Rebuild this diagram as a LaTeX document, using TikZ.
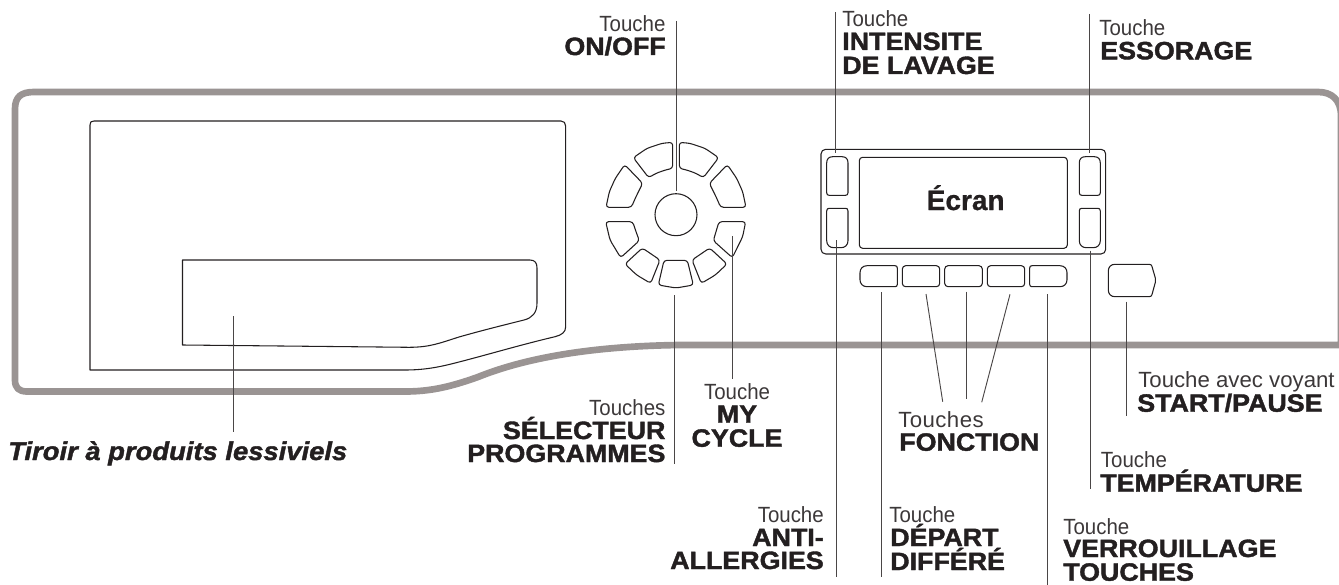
\documentclass[tikz,border=0pt]{standalone}
\usepackage{fontspec}
\setmainfont{Liberation Sans}
\newfontfamily\litefam[FakeStretch=0.93]{Liberation Sans}
\newfontfamily\litewide[FakeStretch=1.01]{Liberation Sans}
\newfontfamily\litespaced[FakeStretch=1.01,LetterSpace=2]{Liberation Sans}
\newfontfamily\heavyfam[FakeStretch=1.07,FakeBold=1.6]{Liberation Sans Bold}
\newfontfamily\heavyit[FakeStretch=1.07,FakeBold=1.6]{Liberation Sans Bold Italic}
\newfontfamily\ecranfam[FakeBold=0.8]{Liberation Sans Bold}
\definecolor{shell}{HTML}{9A9493}
\definecolor{ink}{HTML}{231F20}
\definecolor{leader}{HTML}{4A4646}
\definecolor{litetext}{HTML}{3C3839}
\tikzset{
  shellline/.style={draw=shell,line width=5pt,line join=round},
  part/.style={draw=ink,line width=0.8pt,line join=round},
  thinpart/.style={draw=ink,line width=0.8pt,line join=round},
  leaderline/.style={draw=leader,line width=0.7pt},
  lite/.style={inner sep=0pt,text=litetext,font=\litefam\fontsize{16.5}{18}\selectfont},
  litew/.style={inner sep=0pt,text=litetext,font=\litewide\fontsize{16.5}{18}\selectfont},
  lites/.style={inner sep=0pt,text=litetext,font=\litespaced\fontsize{16.5}{18}\selectfont},
  heavy/.style={inner sep=0pt,text=ink,font=\heavyfam\fontsize{18.8}{20}\selectfont},
  heavyi/.style={inner sep=0pt,text=ink,font=\heavyit\fontsize{19.2}{20}\selectfont},
  dialkey/.style={part,rounded corners=2.2pt},
}
\begin{document}
\begin{tikzpicture}[x=0.75pt,y=-0.75pt]
\useasboundingbox (0,0) rectangle (1339,585);
% outer shell
\begin{scope}
\clip (0,0) rectangle (1339,585);
\path[shellline] (15,109) .. controls (15,97) and (21,92) .. (34,92) -- (1318,92)
  .. controls (1332,92) and (1341,100) .. (1341,116) -- (1341,345) -- (680,345)
  .. controls (600,346) and (530,356) .. (478,377)
  .. controls (450,387) and (430,391.5) .. (405,391.5) -- (27,391.5)
  .. controls (19,391.5) and (15,388) .. (15,380) -- cycle;
\end{scope}
% drawer
\path[thinpart] (94,121) -- (561,121) .. controls (564,121) and (565.6,123) .. (565.6,126)
  -- (565.6,327) .. controls (565.6,332) and (562,335) .. (555,336.7)
  .. controls (520,345) and (490,354) .. (459,362)
  .. controls (440,367) and (425,370) .. (405,370) -- (90,370) -- (90,125)
  .. controls (90,122) and (91,121) .. (94,121) -- cycle;
\path[thinpart] (182.5,260) -- (530,260) .. controls (535,260) and (537,263) .. (537,268)
  -- (537,303) .. controls (537,313) and (532,318) .. (524,320)
  .. controls (500,326) and (480,331) .. (459,337)
  .. controls (440,343) and (430,347.3) .. (409,347.3) -- (182.5,345) -- cycle;
% dial
\node[part,circle,minimum size=31.5pt,inner sep=0pt] (dialcentre) at (676,214.7) {};
\begin{scope}[shift={(590,90)},xscale=1/3,yscale=1/3]
\path[dialkey] (268,157) -- (300,160) -- (345,175) -- (386,203) -- (340,263) -- (318,250) -- (290,240) -- (268,235) -- cycle;
\path[dialkey] (248,157) -- (216,160) -- (171,175) -- (130,203) -- (176,263) -- (198,250) -- (226,240) -- (248,235) -- cycle;
\path[dialkey] (412,224) -- (440,265) -- (458,305) -- (468,352) -- (392,352) -- (378,320) -- (358,280) -- cycle;
\path[dialkey] (104,224) -- (76,265) -- (58,305) -- (48,352) -- (124,352) -- (138,320) -- (158,280) -- cycle;
\path[dialkey] (387,395) -- (467,395) -- (458,440) -- (427,503) -- (370,452) -- (378,425) -- cycle;
\path[dialkey] (47,395) -- (128,395) -- (138,425) -- (148,452) -- (92,503) -- (60,450) -- cycle;
\path[dialkey] (157,474) -- (210,510) -- (196,545) -- (182,580) -- (140,555) -- (105,522) -- cycle;
\path[dialkey] (359,474) -- (411,522) -- (376,555) -- (334,580) -- (320,545) -- (306,510) -- cycle;
\path[dialkey] (222,511) -- (292,511) -- (310,585) -- (258,594) -- (205,585) -- cycle;
\end{scope}
% display panel
\path[part,rounded corners=3.5pt] (821,149.3) rectangle (1105.7,254);
\path[part,rounded corners=2.5pt] (859.3,157.3) rectangle (1067.3,248.3);
\node[inner sep=0pt,anchor=base,text=ink,font=\ecranfam\fontsize{21}{23}\selectfont] (ecran) at (965.7,210) {Écran};
% side keys
\path[part] (832.7,156.7) -- (842,156.7) .. controls (846,156.7) and (848,159) .. (848,163) -- (848,192.7) .. controls (848,194.7) and (847,195.3) .. (845.5,195.3) -- (829.2,195.3) .. controls (827.7,195.3) and (826.7,194.7) .. (826.7,192.7) -- (826.7,163) .. controls (826.7,159) and (828.7,156.7) .. (832.7,156.7) -- cycle;
\path[part] (1085.3,156.7) -- (1094.3,156.7) .. controls (1098.3,156.7) and (1100.3,159) .. (1100.3,163) -- (1100.3,192.7) .. controls (1100.3,194.7) and (1099.3,195.3) .. (1097.8,195.3) -- (1081.8,195.3) .. controls (1080.3,195.3) and (1079.3,194.7) .. (1079.3,192.7) -- (1079.3,163) .. controls (1079.3,159) and (1081.3,156.7) .. (1085.3,156.7) -- cycle;
\path[part] (829.2,208.3) -- (845.5,208.3) .. controls (847,208.3) and (848,209) .. (848,211) -- (848,240.7) .. controls (848,245) and (845,247.7) .. (841,247.7) -- (833.7,247.7) .. controls (829.7,247.7) and (826.7,245) .. (826.7,240.7) -- (826.7,211) .. controls (826.7,209) and (827.7,208.3) .. (829.2,208.3) -- cycle;
\path[part] (1081.8,208.3) -- (1097.8,208.3) .. controls (1099.3,208.3) and (1100.3,209) .. (1100.3,211) -- (1100.3,240.7) .. controls (1100.3,245) and (1097.3,247.7) .. (1093.3,247.7) -- (1086.3,247.7) .. controls (1082.3,247.7) and (1079.3,245) .. (1079.3,240.7) -- (1079.3,211) .. controls (1079.3,209) and (1080.3,208.3) .. (1081.8,208.3) -- cycle;
% function keys
\path[part] (867,265.7) -- (895,265.7) .. controls (896.5,265.7) and (897.3,266.5) .. (897.3,268) -- (897.3,284.4) .. controls (897.3,285.9) and (896.5,286.7) .. (895,286.7) -- (867,286.7) .. controls (862.5,286.7) and (860,283.5) .. (860,279.7) -- (860,272.7) .. controls (860,268.9) and (862.5,265.7) .. (867,265.7) -- cycle;
\path[part,rounded corners=2.5pt] (902.3,265.7) rectangle (939.7,286.7);
\path[part,rounded corners=2.5pt] (944.7,265.7) rectangle (982.3,286.7);
\path[part,rounded corners=2.5pt] (987.3,265.7) rectangle (1024.7,286.7);
\path[part] (1032,265.7) -- (1060,265.7) .. controls (1064.5,265.7) and (1067,268.9) .. (1067,272.7) -- (1067,279.7) .. controls (1067,283.5) and (1064.5,286.7) .. (1060,286.7) -- (1032,286.7) .. controls (1030.5,286.7) and (1029.7,285.9) .. (1029.7,284.4) -- (1029.7,268) .. controls (1029.7,266.5) and (1030.5,265.7) .. (1032,265.7) -- cycle;
% start key
\path[part] (1115,264.3) -- (1149,264.3) .. controls (1151,264.3) and (1151.5,265) .. (1152,266.5) -- (1155.3,278) .. controls (1155.6,279.5) and (1155.6,281) .. (1155.3,282.5) -- (1152,294.5) .. controls (1151.5,296) and (1151,296.7) .. (1149,296.7) -- (1115,296.7) .. controls (1111,296.7) and (1108.3,294) .. (1108.3,290) -- (1108.3,271) .. controls (1108.3,267) and (1111,264.3) .. (1115,264.3) -- cycle;
% leader ends
\coordinate (onA) at (676,21); \coordinate (onB) at (676,190.7);
\coordinate (inA) at (835.3,12.5); \coordinate (inB) at (835.3,152.7);
\coordinate (esA) at (1089.3,14); \coordinate (esB) at (1089.3,152.7);
\coordinate (anA) at (836,240); \coordinate (anB) at (836,576.7);
\coordinate (tiA) at (233.5,316); \coordinate (tiB) at (233.5,431.7);
\coordinate (deA) at (881,292.3); \coordinate (deB) at (881,576.7);
\coordinate (fnA) at (926,294); \coordinate (fnB) at (942.7,401.7);
\coordinate (fmA) at (966,291.7); \coordinate (fmB) at (966,399.3);
\coordinate (frA) at (1010,294.3); \coordinate (frB) at (981.7,402.3);
\coordinate (veA) at (1047.7,294.3); \coordinate (veB) at (1047.7,585);
\coordinate (teA) at (1090,250.7); \coordinate (teB) at (1090,489.3);
\coordinate (stA) at (1126.3,301.7); \coordinate (stB) at (1126.3,416);
\coordinate (seA) at (674,295); \coordinate (seB) at (674,464.3);
\coordinate (myA) at (732.3,236); \coordinate (myB) at (732.3,379);
\foreach \a/\b in {onA/onB,inA/inB,esA/esB,anA/anB,tiA/tiB,deA/deB,fnA/fnB,fmA/fmB,frA/frB,veA/veB,teA/teB,stA/stB,seA/seB,myA/myB}
  \draw[leaderline] (\a) -- (\b);
% labels
\node[lite,anchor=base east] (l1) at (665.7,32) {Touche};
\node[heavy,anchor=base east] (l2) at (666,55) {ON/OFF};
\node[lite,anchor=base west] (l3) at (842,27) {Touche};
\node[heavy,anchor=base west] (l4) at (842,50) {INTENSITE};
\node[heavy,anchor=base west] (l5) at (842,74) {DE LAVAGE};
\node[lite,anchor=base west] (l6) at (1099,35.7) {Touche};
\node[heavy,anchor=base west] (l7) at (1100,59.3) {ESSORAGE};
\node[heavyi,anchor=base west] (l8) at (8,460) {Tiroir à produits lessiviels};
\node[lite,anchor=base east] (l9) at (665.7,415) {Touches};
\node[heavy,anchor=base east] (l10) at (665.7,439) {SÉLECTEUR};
\node[heavy,anchor=base east] (l11) at (665.7,462) {PROGRAMMES};
\node[lite,anchor=base] (l12) at (737,399) {Touche};
\node[heavy,anchor=base] (l13) at (737,422.7) {MY};
\node[heavy,anchor=base] (l14) at (737,446.7) {CYCLE};
\node[lite,anchor=base east] (l15) at (824,522) {Touche};
\node[heavy,anchor=base east] (l16) at (824,546) {ANTI-};
\node[heavy,anchor=base east] (l17) at (824,569) {ALLERGIES};
\node[lite,anchor=base west] (l18) at (889,522.7) {Touche};
\node[heavy,anchor=base west] (l19) at (890,546) {DÉPART};
\node[heavy,anchor=base west] (l20) at (890,570) {DIFFÉRÉ};
\node[lites,anchor=base west] (l21) at (898,427) {Touches};
\node[heavy,anchor=base west] (l22) at (899,450.7) {FONCTION};
\node[litew,anchor=base west] (l23) at (1138,387) {Touche avec voyant};
\node[heavy,anchor=base west] (l24) at (1137,411.7) {START/PAUSE};
\node[lite,anchor=base west] (l25) at (1100.7,467.7) {Touche};
\node[heavy,anchor=base west] (l26) at (1100,491.7) {TEMPÉRATURE};
\node[lite,anchor=base west] (l27) at (1063,534) {Touche};
\node[heavy,anchor=base west] (l28) at (1063,557) {VERROUILLAGE};
\node[heavy,anchor=base west] (l29) at (1063,580.7) {TOUCHES};
\end{tikzpicture}
\end{document}
